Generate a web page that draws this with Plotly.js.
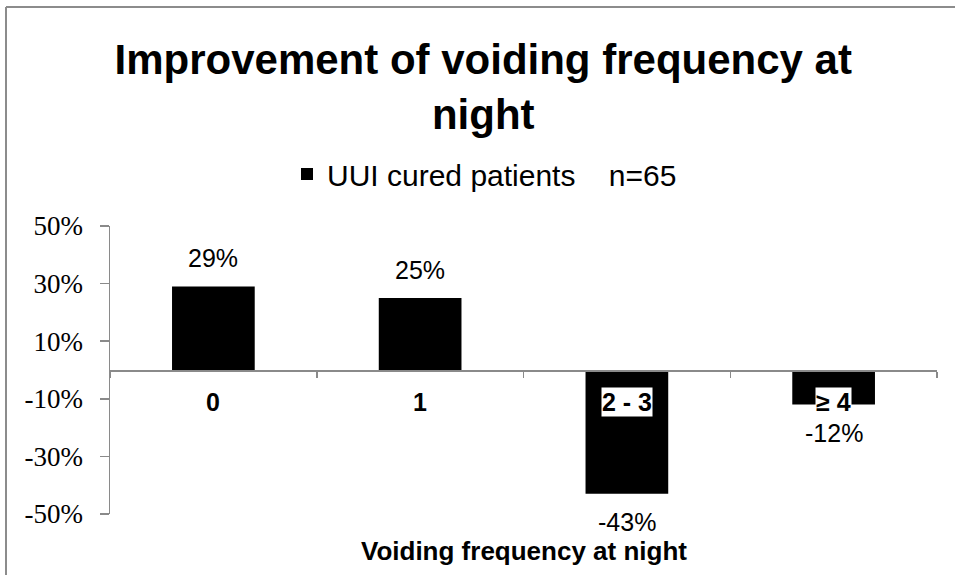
<!DOCTYPE html>
<html>
<head>
<meta charset="utf-8">
<script src="https://cdn.plot.ly/plotly-3.0.1.min.js"></script>
<style>html,body{margin:0;padding:0;background:#fff;}#chart{width:955px;height:575px;}</style>
</head>
<body>
<div id="chart"></div>
<script>
const categories = ["0", "1", "2 - 3", "\u2265 4"];
const values = [29, 25, -43, -12];
const valueLabels = ["29%", "25%", "-43%", "-12%"];
const seriesName = "UUI cured patients\u00a0\u00a0\u00a0\u00a0n=65";
const chartTitle = "Improvement of voiding frequency at<br>night";
const xTitle = "Voiding frequency at night";
const yTickVals = [-50, -30, -10, 10, 30, 50];
const yTickText = ["-50%", "-30%", "-10%", "10%", "30%", "50%"];

const axisGray = "#8a8a8a";
const W = 955, H = 575, ml = 110, mr = 18, mt = 226, mb = 61;
const pw = W - ml - mr, ph = H - mt - mb;
const px2x = p => (p - ml) / pw;
const px2y = p => (H - mb - p) / ph;

const trace = {
  type: "bar",
  x: categories,
  y: values,
  name: seriesName,
  width: 0.4,
  marker: {color: "#000000", line: {width: 0}},
  showlegend: true,
  hoverinfo: "skip"
};

const annotations = [];
categories.forEach((c, i) => {
  annotations.push({
    x: c, y: 0, xref: "x", yref: "y",
    text: "<b>" + c + "</b>",
    showarrow: false, yanchor: "top", yshift: -17,
    bgcolor: "#ffffff", borderpad: 0,
    font: {family: "Liberation Sans, Arial, sans-serif", size: 25, color: "#000"}
  });
  const v = values[i];
  annotations.push({
    x: c, y: v, xref: "x", yref: "y",
    text: valueLabels[i],
    showarrow: false,
    yanchor: v >= 0 ? "bottom" : "top",
    yshift: v >= 0 ? 12 : -12,
    font: {family: "Liberation Sans, Arial, sans-serif", size: 25, color: "#000"}
  });
});
annotations.push({
  x: 0.5, y: px2y(551), xref: "paper", yref: "paper",
  text: "<b>" + xTitle + "</b>",
  showarrow: false, xanchor: "center", yanchor: "middle",
  font: {family: "Liberation Sans, Arial, sans-serif", size: 26, color: "#000"}
});

const layout = {
  width: W, height: H,
  margin: {l: ml, r: mr, t: mt, b: mb, pad: 0},
  paper_bgcolor: "#ffffff",
  plot_bgcolor: "#ffffff",
  title: {
    text: "<b>" + chartTitle + "</b>",
    font: {family: "Liberation Sans, Arial, sans-serif", size: 42, color: "#000"},
    x: 0.506, xanchor: "center", xref: "container",
    y: 1 - 74 / H, yanchor: "top", yref: "container"
  },
  showlegend: true,
  legend: {
    orientation: "h",
    x: px2x(287), xanchor: "left",
    y: px2y(174), yanchor: "middle",
    font: {family: "Liberation Sans, Arial, sans-serif", size: 30, color: "#000"},
    bgcolor: "rgba(0,0,0,0)"
  },
  xaxis: {
    type: "category",
    range: [-0.5, 3.5],
    anchor: "free",
    position: 0.5,
    showline: true, linecolor: axisGray, linewidth: 1.5,
    ticks: "outside", tickson: "boundaries", ticklen: 6, tickcolor: axisGray, tickwidth: 1.5,
    showticklabels: false,
    showgrid: false, zeroline: false,
    fixedrange: true
  },
  yaxis: {
    range: [-50, 50],
    tickvals: yTickVals,
    ticktext: yTickText,
    showline: true, linecolor: axisGray, linewidth: 1.5,
    ticks: "outside", ticklen: 9, tickcolor: axisGray, tickwidth: 1.5,
    ticklabelstandoff: 11,
    tickfont: {family: "Liberation Serif, Times New Roman, serif", size: 27, color: "#000"},
    showgrid: false, zeroline: false,
    fixedrange: true
  },
  annotations: annotations,
  shapes: [
    {type: "line", xref: "paper", yref: "paper", x0: px2x(6), x1: px2x(W + 5), y0: px2y(7), y1: px2y(7),
     line: {color: "#8c8c8c", width: 2}},
    {type: "line", xref: "paper", yref: "paper", x0: px2x(6), x1: px2x(6), y0: px2y(7), y1: px2y(H + 5),
     line: {color: "#8c8c8c", width: 2}}
  ]
};

Plotly.newPlot("chart", [trace], layout, {displayModeBar: false, staticPlot: true});
</script>
</body>
</html>
